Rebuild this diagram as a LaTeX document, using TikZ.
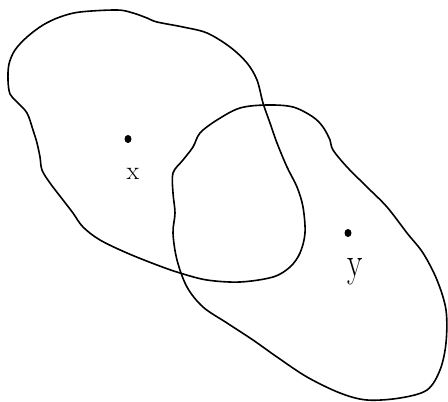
\documentclass[tikz,border=0pt]{standalone}
\usetikzlibrary{shapes.geometric}
\begin{document}
\begin{tikzpicture}[x=1pt,y=-1pt,
  blob/.style={draw=black,line width=1.6pt,line join=round},
  dotmark/.style={fill=black,ellipse,inner sep=0pt,minimum width=7pt,minimum height=8pt},
  lbl/.style={inner sep=0pt}]
\useasboundingbox (0,0) rectangle (448,402);
% left/top blob
\draw[blob] plot[smooth cycle,tension=0.55] coordinates {
(80,12)(117,10)(133,13)(147,18)(157,22)(183,27)(207,33)(230,47)(247,63)(257,80)
(263,103)(270,123)(277,143)(287,167)(297,187)(303,207)(305,233)(300,253)(290,267)
(273,277)(240,282)(207,280)(180,273)(157,265)(127,253)(100,240)(83,227)(73,213)
(63,200)(50,183)(42,170)(40,157)(37,143)(33,130)(27,113)(17,102)(10,94)(8,80)
(9,64)(15,50)(27,37)(43,25)(60,17)};
% right/bottom blob
\draw[blob] plot[smooth cycle,tension=0.55] coordinates {
(267,105)(293,107)(313,117)(323,127)(330,140)(333,150)(347,167)(367,187)(387,207)
(407,233)(423,253)(437,280)(446,310)(446,343)(440,370)(427,390)(400,398)(367,400)
(340,393)(307,377)(277,357)(253,340)(227,323)(203,307)(187,287)(177,260)(173,233)
(175,213)(173,193)(173,173)(183,160)(193,147)(200,133)(217,120)(240,108)};
\node[dotmark] (dx) at (128,139) {};
\node[dotmark] (dy) at (348,233) {};
\node[lbl,font=\fontsize{26}{26}\selectfont] (lx) at (133,174) {x};
\node[lbl,xscale=0.75,font=\fontsize{42}{42}\selectfont] (ly) at (355,272) {y};
\end{tikzpicture}
\end{document}
